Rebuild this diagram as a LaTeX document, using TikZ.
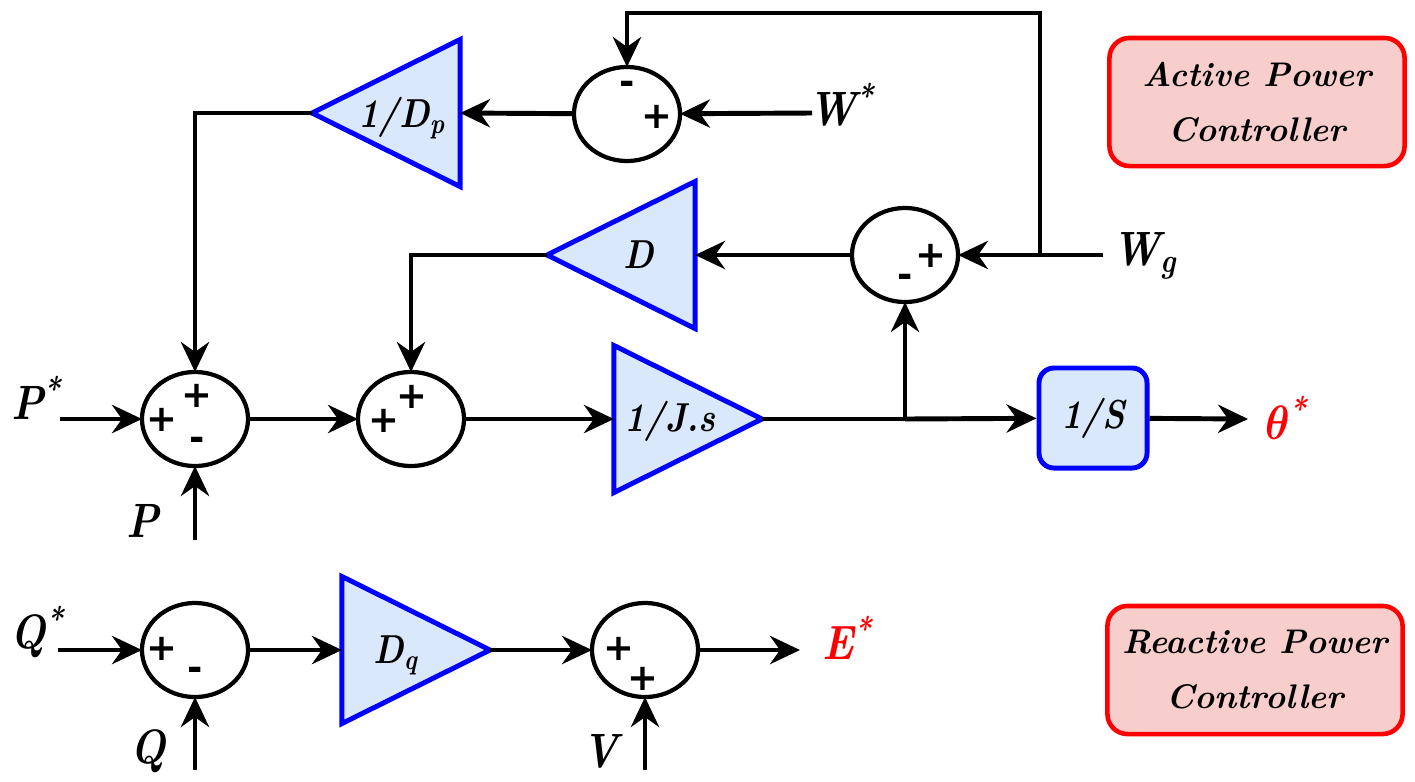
\documentclass[tikz,border=0pt]{standalone}
\usepackage{fontspec}
\usepackage{bm}
\newfontfamily\signfont{DejaVu Sans}
\usetikzlibrary{shapes.geometric,arrows.meta}
\definecolor{triblue}{RGB}{218,232,252}
\definecolor{pinkfill}{RGB}{248,206,204}
\newcommand{\iotxt}[1]{\scalebox{1.18}[1.37]{#1}}
\newcommand{\blktxt}[1]{\scalebox{0.99}[1.15]{#1}}
\begin{document}
\begin{tikzpicture}[x=0.01cm, y=-0.01cm, line width=1.4pt,
  >={Stealth[length=8.5pt,width=8pt,inset=2.8pt]},
  sumnode/.style={ellipse, draw, line width=1.2pt, minimum width=1.06cm, minimum height=0.94cm, inner sep=0pt, outer sep=0pt},
  gain/.style={isosceles triangle, isosceles triangle stretches, draw=blue, fill=triblue, line width=1.4pt, minimum width=1.47cm, minimum height=1.48cm, inner sep=0pt, outer sep=0pt},
  arr/.style={->},
  sig/.style={font=\fontsize{10.5}{10.5}\signfont\bfseries, inner sep=0pt},
  io/.style={font=\fontsize{10}{12}\selectfont\bfseries\itshape, inner sep=0pt},
  blk/.style={font=\fontsize{10}{12}\selectfont\bfseries\itshape, inner sep=0pt},
  intbox/.style={draw=blue, fill=triblue, line width=1.4pt, rounded corners=0.15cm, minimum width=1.08cm, minimum height=1.0cm, inner sep=0pt, font=\fontsize{10}{12}\selectfont\bfseries\itshape},
  ctrl/.style={draw=red, fill=pinkfill, line width=1.3pt, rounded corners=0.2cm, minimum width=2.95cm, minimum height=1.28cm, align=center, inner sep=0pt, font=\fontsize{9.7}{15.6}\selectfont\bfseries\itshape}
]
\useasboundingbox (0,0) rectangle (1415,781);

% summing junctions
\node[sumnode] (S1) at (195,419) {};
\node[sumnode] (S2) at (411,419) {};
\node[sumnode] (S3) at (905,255) {};
\node[sumnode] (S4) at (627,114) {};
\node[sumnode] (S5) at (195,650) {};
\node[sumnode] (S6) at (645,650) {};

% gains
\node[gain, anchor=apex] (J) at (762,419) {};
\node[gain, shape border rotate=180, anchor=apex] (Dp) at (312,113) {};
\node[gain, shape border rotate=180, anchor=apex] (D) at (547,255) {};
\node[gain, anchor=apex] (Dq) at (490,650) {};
\node[blk] (Jt) at (670,421) {\blktxt{1/J.s}};
\node[blk] (Dpt) at (402,118) {\blktxt{1/D\textsubscript{p}}};
\node[blk] (Dt) at (639,255) {\blktxt{D}};
\node[blk] (Dqt) at (396,655) {\blktxt{D\textsubscript{q}}};

\node[intbox] (IS) at (1093,418) {\blktxt{1/S}};

% controller boxes
\node[ctrl] (apc) at (1257,102) {Active Power\\Controller};
\node[ctrl] (rpc) at (1255,670) {Reactive Power\\Controller};

% signs
\node[sig] at (197,396) {+};
\node[sig] at (162,420) {+};
\node[sig] at (197,444) {-};
\node[sig] at (412,397) {+};
\node[sig] at (384,421) {+};
\node[sig] at (627,88) {-};
\node[sig] at (657,117) {+};
\node[sig] at (931,256) {+};
\node[sig] at (905,281) {-};
\node[sig] at (162,649) {+};
\node[sig] at (195,674) {-};
\node[sig] at (619,649) {+};
\node[sig] at (643,679) {+};

% io labels
\node[io] (lPs) at (37,398) {\iotxt{P\textsuperscript{*}}};
\node[io] (lP) at (143,521) {\iotxt{P}};
\node[io] (lQs) at (38,632) {\iotxt{Q\textsuperscript{*}}};
\node[io] (lQ) at (148,751) {\iotxt{Q}};
\node[io] (lV) at (600,751) {\iotxt{V}};
\node[io, text=red] (lE) at (848,638) {\iotxt{E\textsuperscript{*}}};
\node[io, text=red] (lth) at (1287,418) {\iotxt{$\bm{\theta}$\textsuperscript{*}}};
\node[io] (lWs) at (842,105) {\iotxt{W\textsuperscript{*}}};
\node[io] (lWg) at (1145,256) {\iotxt{W\textsubscript{g}}};

% coordinates
\coordinate (Pin) at (60,419);
\coordinate (Pb) at (195,540);
\coordinate (br1) at (905,419);
\coordinate (thout) at (1248,419);
\coordinate (Wgin) at (1103,255);
\coordinate (br2) at (1040,255);
\coordinate (topc) at (1040,13);
\coordinate (Wsin) at (812,113);
\coordinate (Qin) at (58,650);
\coordinate (Qb) at (195,770);
\coordinate (Vb) at (645,770);
\coordinate (Eout) at (800,650);

% connectors
\draw[arr] (Pin) -- (S1);
\draw[arr] (Pb) -- (S1);
\draw[arr] (S1) -- (S2);
\draw[arr] (S2) -- (J.lower side);
\draw (J.apex) -- (br1);
\draw[arr] (br1) -- (IS);
\draw[arr] (IS) -- (thout);
\draw[arr] (br1) -- (S3);
\draw[arr] (Wgin) -- (S3);
\draw[arr] (br2) -- (topc) -| (S4);
\draw[arr] (Wsin) -- (S4);
\draw[arr] (S4) -- (Dp.lower side);
\draw[arr] (Dp.apex) -| (S1);
\draw[arr] (S3) -- (D.lower side);
\draw[arr] (D.apex) -| (S2);
\draw[arr] (Qin) -- (S5);
\draw[arr] (Qb) -- (S5);
\draw[arr] (S5) -- (Dq.lower side);
\draw[arr] (Dq.apex) -- (S6);
\draw[arr] (Vb) -- (S6);
\draw[arr] (S6) -- (Eout);
\end{tikzpicture}
\end{document}
